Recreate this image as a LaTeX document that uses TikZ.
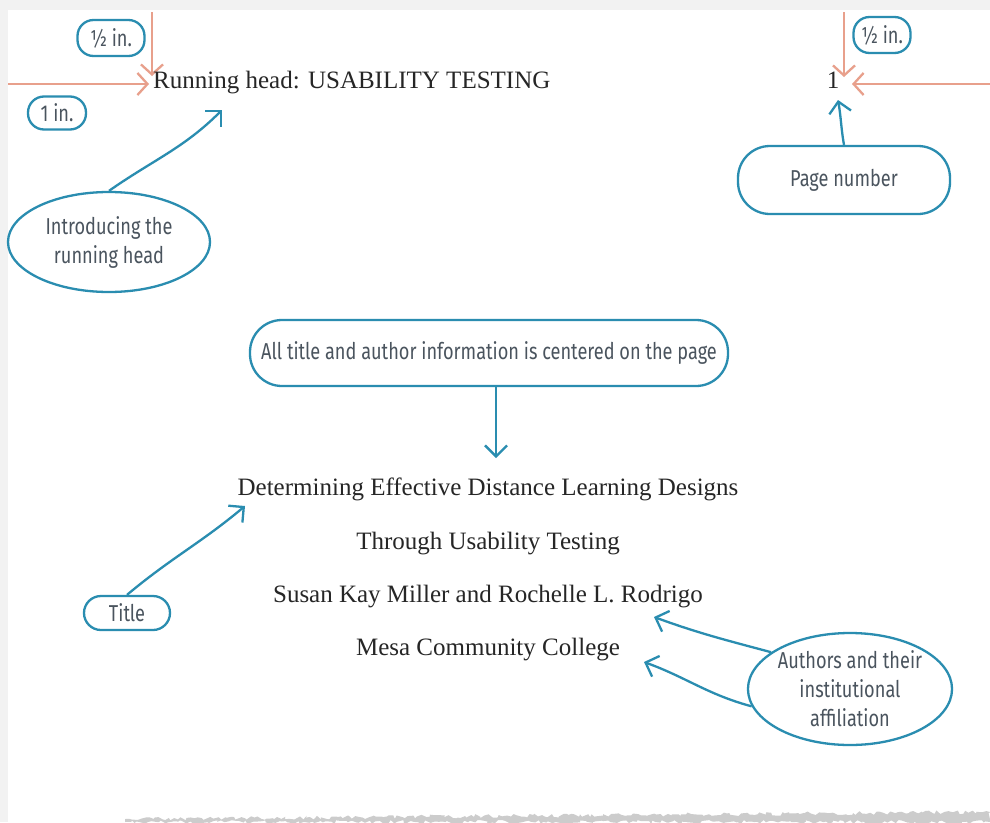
\documentclass[tikz,border=0pt]{standalone}
\usepackage{fontspec}
\setmainfont{Liberation Serif}
\newfontfamily\notefont[FakeStretch=0.79]{Fira Sans}
\usetikzlibrary{arrows.meta,positioning,shapes.geometric,decorations.pathmorphing,calc}
\definecolor{noteblue}{HTML}{2A8DB0}
\definecolor{notegray}{HTML}{4A545E}
\definecolor{marginred}{HTML}{E8A08C}
\tikzset{
  note/.style={draw=noteblue, line width=2.3pt, ellipse, inner sep=0pt,
    font=\notefont\fontsize{23}{29}\selectfont, text=notegray, align=center},
  flatnote/.style={note, rectangle, rounded corners=32pt},
  tag/.style={draw=noteblue, line width=2.3pt, rounded corners=16pt, inner sep=0pt,
    font=\notefont\fontsize{23}{24}\selectfont, text=notegray},
  pointer/.style={noteblue, line width=2.3pt, -{Straight Barb[length=11pt,width=22pt]}},
  measure/.style={marginred, line width=2.3pt, -{Straight Barb[length=10pt,width=22pt]}},
  pagetext/.style={font=\fontsize{25}{28}\selectfont, text=black!85, inner sep=0pt}
}
\begin{document}
\begin{tikzpicture}[x=1pt, y=-1pt]
    \useasboundingbox (0,0) rectangle (990,822);
    % paper
    \fill[black!5] (0,0) rectangle (990,822);
    \fill[white] (8,10) rectangle (990,822);
    \pgfmathsetseed{11}
    \fill[black!20, decorate, decoration={random steps, segment length=3pt, amplitude=2pt}]
      (125,819) -- (990,812) -- (990,822) -- (125,822) -- cycle;

    % margins
    \coordinate (lefttop) at (152,12);
    \coordinate (leftstop) at (152,76);
    \coordinate (leftside) at (8,84);
    \coordinate (leftend) at (149,84);
    \coordinate (righttop) at (844,12);
    \coordinate (rightstop) at (844,77);
    \coordinate (rightside) at (990,84);
    \coordinate (rightend) at (852,84);
    \draw[measure] (lefttop) -- (leftstop);
    \draw[measure] (leftside) -- (leftend);
    \draw[measure] (righttop) -- (rightstop);
    \draw[measure] (rightside) -- (rightend);
    \node[tag, minimum width=67pt, minimum height=36pt] (halfleft) at (111,38) {½ in.};
    \node[tag, minimum width=58pt, minimum height=33pt] (oneinch) at (57,113) {1 in.};
    \node[tag, minimum width=57pt, minimum height=36pt] (halfright) at (882,35) {½ in.};

    % page text
    \node[pagetext, anchor=base west] (runhead) at (153,88) {Running head: USABILITY TESTING};
    \node[pagetext, anchor=base] (pagenum) at (833,88) {1};
    \node[pagetext, anchor=base] (title1) at (488,495) {Determining Effective Distance Learning Designs};
    \node[pagetext, anchor=base] (title2) at (488,549) {Through Usability Testing};
    \node[pagetext, anchor=base] (names) at (488,602) {Susan Kay Miller and Rochelle L. Rodrigo};
    \node[pagetext, anchor=base] (college) at (488,655) {Mesa Community College};

    % callouts
    \node[note, minimum width=202pt, minimum height=100pt] (intro) at (109,242) {Introducing the\\running head};
    \node[flatnote, minimum width=212pt, minimum height=68pt] (pagenote) at (844,180) {Page number};
    \node[flatnote, minimum width=478pt, minimum height=66pt] (centered) at (489,353) {All title and author information is centered on the page};
    \node[flatnote, rounded corners=17pt, minimum width=86pt, minimum height=34pt] (titlenote) at (127,613) {Title};
    \node[note, minimum width=200pt, minimum height=112pt] (authors) at (850,689) {Authors and their\\institutional\\affiliation};

    \coordinate (headmark) at (222,110);
    \coordinate (nummark) at (838,100);
    \coordinate (titlemark) at (496,458);
    \coordinate (title1mark) at (245,506);
    \coordinate (namesmark) at (654,617);
    \coordinate (collegemark) at (644,662);
    \draw[pointer] (intro.north) to[out=35, in=225] (headmark);
    \draw[pointer] (pagenote.north) to[out=100, in=-80] (nummark);
    \draw[pointer] (centered.south -| titlemark) -- (titlemark);
    \draw[pointer] (titlenote.north) to[out=40, in=220] (title1mark);
    \draw[pointer] (authors.155) to[out=165, in=-20] (namesmark);
    \draw[pointer] (authors.190) to[out=165, in=-20] (collegemark);
\end{tikzpicture}
\end{document}
